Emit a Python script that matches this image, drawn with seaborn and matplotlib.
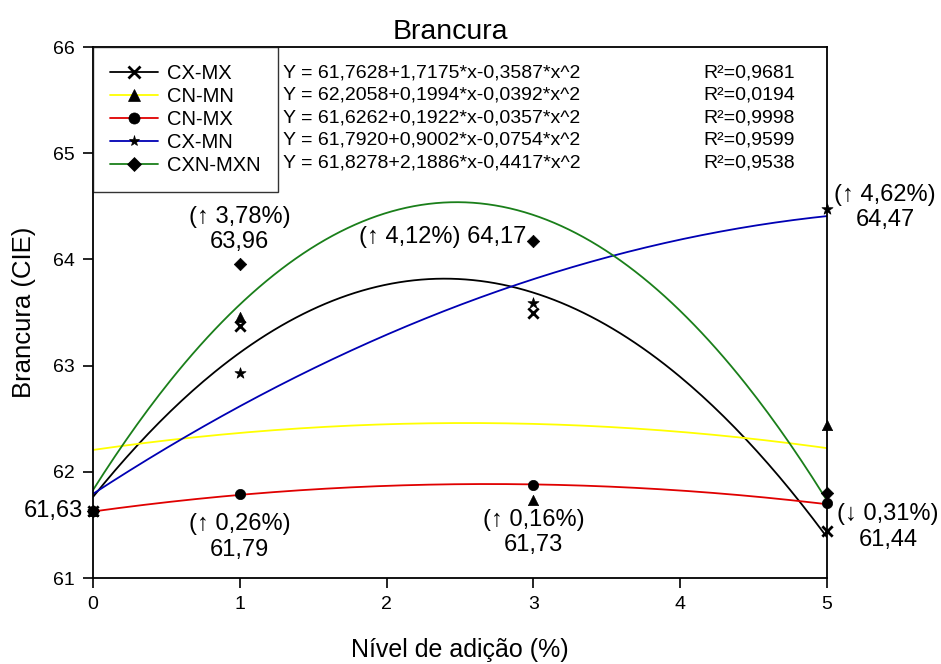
import numpy as np
import pandas as pd
import seaborn as sns
import matplotlib
matplotlib.use('Agg')
import matplotlib.pyplot as plt
from matplotlib.lines import Line2D

# data
niveis = [0, 1, 3, 5]
series = ['CX-MX', 'CN-MN', 'CN-MX', 'CX-MN', 'CXN-MXN']
cx_mx = [61.63, 63.37, 63.50, 61.44]
cn_mn = [61.63, 63.46, 61.73, 62.44]
cn_mx = [61.63, 61.79, 61.88, 61.71]
cx_mn = [61.63, 62.93, 63.59, 64.47]
cxn_mxn = [61.63, 63.96, 64.17, 61.80]

# quadratic fits printed on the chart (a, b, c)
coef_a = [61.7628, 62.2058, 61.6262, 61.7920, 61.8278]
coef_b = [1.7175, 0.1994, 0.1922, 0.9002, 2.1886]
coef_c = [-0.3587, -0.0392, -0.0357, -0.0754, -0.4417]
equacoes = ['Y = 61,7628+1,7175*x-0,3587*x^2',
            'Y = 62,2058+0,1994*x-0,0392*x^2',
            'Y = 61,6262+0,1922*x-0,0357*x^2',
            'Y = 61,7920+0,9002*x-0,0754*x^2',
            'Y = 61,8278+2,1886*x-0,4417*x^2']
r2 = ['R²=0,9681', 'R²=0,0194', 'R²=0,9998', 'R²=0,9599', 'R²=0,9538']

cores = ['black', '#ffff00', '#e00000', '#0000b4', '#1a7f1a']
marcadores = ['x', '^', 'o', '*', 'D']
tamanhos = [55, 55, 55, 70, 40]

valores = [cx_mx, cn_mn, cn_mx, cx_mn, cxn_mxn]

sns.set_style('ticks')
plt.rcParams['font.family'] = ['Liberation Sans', 'DejaVu Sans']
plt.rcParams['text.color'] = 'black'
plt.rcParams['axes.labelcolor'] = 'black'

fig, ax = plt.subplots(figsize=(9.41, 6.64), dpi=100)
fig.subplots_adjust(left=0.0988, right=0.8789, top=0.9292, bottom=0.1295)

# fitted curves
xs = np.linspace(0, 5, 200)
curvas = []
for nome, a, b, c in zip(series, coef_a, coef_b, coef_c):
    curvas.append(pd.DataFrame({'x': xs, 'y': a + b * xs + c * xs ** 2, 'serie': nome}))
df_curvas = pd.concat(curvas)
sns.lineplot(data=df_curvas, x='x', y='y', hue='serie', palette=dict(zip(series, cores)),
             linewidth=1.3, legend=False, ax=ax, zorder=2)

# observed points
for nome, v, m, s in zip(series, valores, marcadores, tamanhos):
    df_p = pd.DataFrame({'x': niveis, 'y': v})
    if m == 'x':
        sns.scatterplot(data=df_p, x='x', y='y', marker=m, s=s, color='black',
                        linewidth=2, ax=ax, zorder=3, clip_on=False)
    else:
        sns.scatterplot(data=df_p, x='x', y='y', marker=m, s=s, color='black',
                        edgecolor='black', linewidth=0.5, ax=ax, zorder=3, clip_on=False)

ax.set_xlim(0, 5)
ax.set_ylim(61, 66)
ax.set_xticks([0, 1, 2, 3, 4, 5])
ax.set_yticks([61, 62, 63, 64, 65, 66])
ax.tick_params(direction='out', length=7, width=1.2, labelsize=14, colors='black', pad=6)
for sp in ax.spines.values():
    sp.set_visible(True)
    sp.set_linewidth(1.3)
    sp.set_color('black')

ax.set_title('Brancura', fontsize=20.5, pad=6, x=0.487)
ax.set_xlabel('Nível de adição (%)', fontsize=18, labelpad=18)
ax.set_ylabel('Brancura (CIE)', fontsize=18.5, labelpad=12)

# legend
handles = [Line2D([], [], color=c, marker=m, markerfacecolor='black', markeredgecolor='black',
                  markersize=8 if m != 'D' else 7, markeredgewidth=2 if m == 'x' else 0.5, linewidth=1.3)
           for c, m in zip(cores, marcadores)]
leg = ax.legend(handles, series, loc='upper left', bbox_to_anchor=(0, 1), borderaxespad=0,
                fontsize=14.5, frameon=True, fancybox=False, edgecolor='black',
                handlelength=2.4, labelspacing=0.2, borderpad=0.85, handletextpad=0.45)
leg.get_frame().set_linewidth(1.0)
for t in leg.get_texts():
    t.set_color('black')

# equations and R²
ys = [0.951, 0.909, 0.866, 0.824, 0.782]
for eq, r, y in zip(equacoes, r2, ys):
    ax.text(0.259, y, eq, transform=ax.transAxes, fontsize=14, va='center', ha='left')
    ax.text(0.832, y, r, transform=ax.transAxes, fontsize=14, va='center', ha='left')

# annotations
fs = 17
ax.text(-0.07, 61.63, '61,63', fontsize=fs, ha='right', va='center', clip_on=False)
ax.text(1, 64.06, '(↑ 3,78%)\n63,96', fontsize=fs, ha='center', va='bottom', linespacing=1.2)
ax.text(2.95, 64.21, '(↑ 4,12%) 64,17', fontsize=fs, ha='right', va='center')
ax.text(1, 61.61, '(↑ 0,26%)\n61,79', fontsize=fs, ha='center', va='top', linespacing=1.2)
ax.text(3, 61.65, '(↑ 0,16%)\n61,73', fontsize=fs, ha='center', va='top', linespacing=1.2)
ax.text(5.05, 64.49, '(↑ 4,62%)\n64,47', fontsize=fs, ha='left', va='center', linespacing=1.2,
        multialignment='center', clip_on=False)
ax.text(5.07, 61.48, '(↓ 0,31%)\n61,44', fontsize=fs, ha='left', va='center', linespacing=1.2,
        multialignment='center', clip_on=False)

fig.savefig('out.png', dpi=100)
